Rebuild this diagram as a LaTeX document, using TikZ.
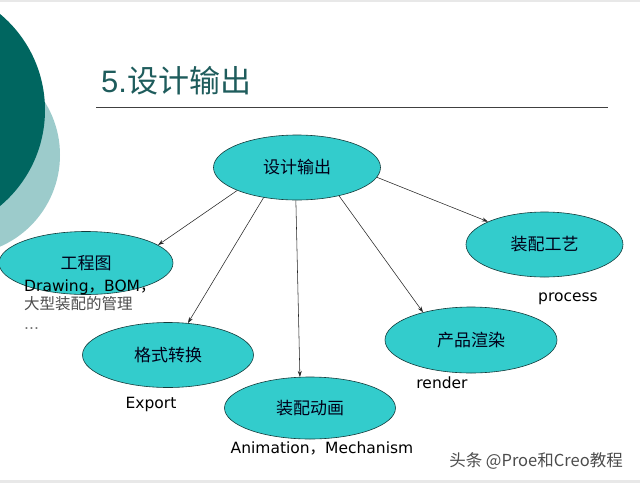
\documentclass[tikz,border=0pt]{standalone}
\usepackage{fontspec}
\setmainfont{DejaVu Sans}
\newfontfamily\cjk{Noto Sans CJK SC}
\newfontfamily\arialfont{Liberation Sans}
\usetikzlibrary{shapes.geometric,arrows.meta}

\definecolor{deepteal}{RGB}{0,102,96}
\definecolor{paleteal}{RGB}{156,203,203}
\definecolor{titleteal}{RGB}{30,92,92}
\definecolor{ovalfill}{RGB}{51,204,204}
\definecolor{ovaledge}{RGB}{20,60,60}
\definecolor{bandgray}{RGB}{232,232,232}

\tikzset{
  oval/.style={ellipse, draw=ovaledge, line width=0.6pt, fill=ovalfill,
    minimum width=#1, inner sep=0pt, font=\cjk\fontsize{17}{20}\selectfont,
    text=black!90!blue},
  oval/.default=170pt,
  tag/.style={font=\fontsize{15.5}{18}\selectfont, text=black, inner sep=0pt},
  link/.style={draw=black!85, line width=0.55pt,
    -{Stealth[length=6pt,width=4pt]}},
}

\begin{document}
\begin{tikzpicture}[x=1pt,y=-1pt]
  \useasboundingbox (0,0) rectangle (640,483);
  \fill[white] (0,0) rectangle (640,483);

  % page edges
  \fill[bandgray] (0,0) rectangle (640,1.5);
  \fill[bandgray] (0,480) rectangle (640,483);

  % decorative circles at the left edge
  \begin{scope}
    \clip (0,0) rectangle (640,483);
    \fill[paleteal] (-40,155) circle[radius=100];
    \fill[deepteal] (-80,110) circle[radius=125];
  \end{scope}

  % heading and rule
  \node[anchor=base west, inner sep=0pt, text=titleteal,
        font=\fontsize{31}{36}\selectfont] (title) at (101,92)
        {{\arialfont 5.}{\cjk 设计输出}};
  \draw[black!75, line width=0.8pt] (96,107) -- (608,107);

  % ellipses
  \node[oval=167pt, minimum height=65pt] (main)    at (297,167.5) {设计输出};
  \node[oval=174pt, minimum height=63pt] (drawing) at (86,263)    {工程图};
  \node[oval=171pt, minimum height=65pt] (format)  at (168,355)   {格式转换};
  \node[oval=171pt, minimum height=62pt] (anim)    at (310,408)   {装配动画};
  \node[oval=172pt, minimum height=66pt] (render)  at (471,340)   {产品渲染};
  \node[oval=157pt, minimum height=65pt] (process) at (544.5,244.5) {装配工艺};

  % captions
  \node[tag, anchor=base west] (capdraw) at (24,291) {Drawing{\cjk ，}BOM{\cjk ，}};
  \node[tag, anchor=base west, text=black!70, font=\cjk\fontsize{15.5}{18}\selectfont]
        (capasm) at (24,309) {大型装配的管理};
  \node[tag, anchor=base west, text=black!55] (capdots) at (24,329) {...};
  \node[tag, anchor=base] (capexp)  at (151,408) {Export};
  \node[tag, anchor=base] (capanim) at (322,453) {Animation{\cjk ，}Mechanism};
  \node[tag, anchor=base] (caprend) at (442,388) {render};
  \node[tag, anchor=base] (capproc) at (568,301) {process};

  % connectors
  \draw[link] (main.201) -- (drawing.14);
  \draw[link] (main.222) -- (format.58);
  \draw[link] (main.268) -- (anim.108);
  \draw[link] (main.326) -- (render.150);
  \draw[link] (main.353) -- (process.158);

  % corner signature
  \node[inner sep=0pt, text=black!70, font=\cjk\fontsize{16.5}{20}\selectfont]
        (sign) at (536,461) {头条 @Proe和Creo教程};
\end{tikzpicture}
\end{document}
